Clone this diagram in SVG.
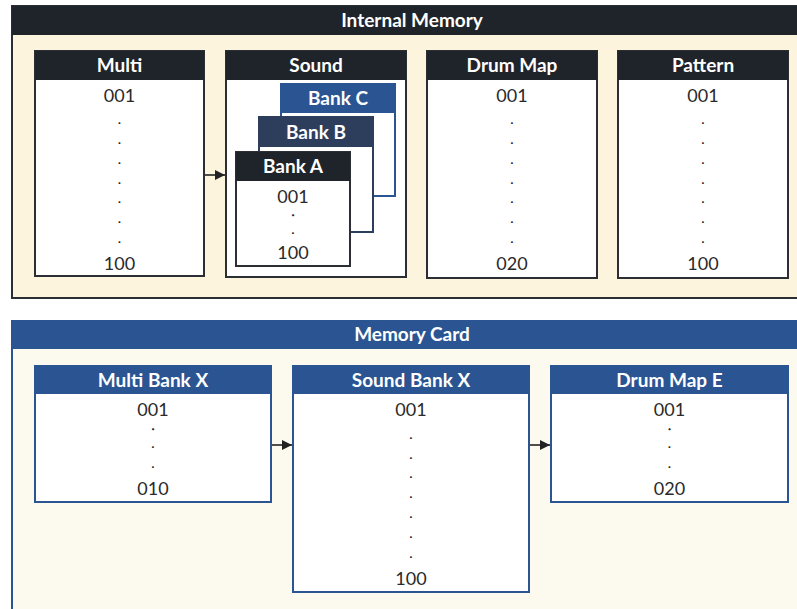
<svg xmlns="http://www.w3.org/2000/svg" width="797" height="609" viewBox="0 0 797 609">
<defs>
<style>
.hd{font-family:Lato,"Open Sans","Liberation Sans",sans-serif;font-weight:bold;font-size:19px;fill:#fff;text-anchor:middle}
.tx{font-family:Lato,"Open Sans","Liberation Sans",sans-serif;font-size:18px;fill:#2a2a2a;text-anchor:middle}
.dt{font-family:Lato,"Open Sans","Liberation Sans",sans-serif;font-size:12px;font-weight:900;fill:#222;text-anchor:middle}
.ds{font-family:Lato,"Open Sans","Liberation Sans",sans-serif;font-size:9px;font-weight:900;fill:#222;stroke:#222;stroke-width:0.7;text-anchor:middle}
.dk{fill:#fff;stroke:#2b2e33;stroke-width:2}
.bl{fill:#fff;stroke:#2a5592;stroke-width:2}
.dkh{fill:#1f242b}
.blh{fill:#2a5592}
.conn{stroke:#222;stroke-width:1.6;fill:none}
</style>
<marker id="ah" viewBox="0 0 10 10" refX="10" refY="5" markerWidth="10" markerHeight="10" markerUnits="userSpaceOnUse" orient="auto">
<path d="M0,0 L10,5 L0,10 z" fill="#222"/>
</marker>
</defs>
<rect width="797" height="609" fill="#fff"/>

<g id="internal-memory">
<rect x="12" y="6" width="800" height="292" fill="#fdf4de" stroke="#2b2e33" stroke-width="2"/>
<rect x="12" y="6" width="800" height="29" class="dkh"/>
<text class="hd" x="412" y="27">Internal Memory</text>
</g>

<g id="memory-card">
<rect x="12" y="321" width="800" height="300" fill="#fcf9ee" stroke="#2a5592" stroke-width="2"/>
<rect x="12" y="321" width="800" height="28" class="blh"/>
<text class="hd" x="412" y="341">Memory Card</text>
</g>

<g id="multi">
<rect class="dk" x="35" y="51" width="169" height="225"/>
<rect class="dkh" x="35" y="51" width="169" height="29"/>
<text class="hd" x="119.5" y="72">Multi</text>
<text class="tx" x="119.5" y="102">001</text>
<text class="dt" x="119.5" y="124">.</text>
<text class="dt" x="119.5" y="144">.</text>
<text class="dt" x="119.5" y="164">.</text>
<text class="dt" x="119.5" y="184">.</text>
<text class="dt" x="119.5" y="203">.</text>
<text class="dt" x="119.5" y="223">.</text>
<text class="dt" x="119.5" y="243">.</text>
<text class="tx" x="119.5" y="270">100</text>
</g>

<g id="sound">
<rect class="dk" x="226" y="51" width="180" height="226"/>
<rect class="dkh" x="226" y="51" width="180" height="29"/>
<text class="hd" x="316" y="72">Sound</text>
</g>

<g id="bank-c">
<rect class="bl" x="281" y="84" width="114" height="112"/>
<rect class="blh" x="281" y="84" width="114" height="29"/>
<text class="hd" x="338" y="105">Bank C</text>
</g>

<g id="bank-b">
<rect fill="#fff" stroke="#2d3e5d" stroke-width="2" x="259" y="117" width="114" height="115"/>
<rect fill="#2d3e5d" x="259" y="117" width="114" height="30"/>
<text class="hd" x="316" y="139">Bank B</text>
</g>

<g id="bank-a">
<rect class="dk" x="236" y="152" width="114" height="114"/>
<rect class="dkh" x="236" y="152" width="114" height="29"/>
<text class="hd" x="293" y="173">Bank A</text>
<text class="tx" x="293" y="203">001</text>
<text class="ds" x="293" y="216">.</text>
<text class="dt" x="293" y="234">.</text>
<text class="tx" x="293" y="259">100</text>
</g>

<g id="drum-map">
<rect class="dk" x="427" y="51" width="170" height="227"/>
<rect class="dkh" x="427" y="51" width="170" height="29"/>
<text class="hd" x="512" y="72">Drum Map</text>
<text class="tx" x="512" y="102">001</text>
<text class="dt" x="512" y="124">.</text>
<text class="dt" x="512" y="144">.</text>
<text class="dt" x="512" y="164">.</text>
<text class="dt" x="512" y="184">.</text>
<text class="dt" x="512" y="203">.</text>
<text class="dt" x="512" y="223">.</text>
<text class="dt" x="512" y="243">.</text>
<text class="tx" x="512" y="270">020</text>
</g>

<g id="pattern">
<rect class="dk" x="618" y="51" width="170" height="227"/>
<rect class="dkh" x="618" y="51" width="170" height="29"/>
<text class="hd" x="703" y="72">Pattern</text>
<text class="tx" x="703" y="102">001</text>
<text class="dt" x="703" y="124">.</text>
<text class="dt" x="703" y="144">.</text>
<text class="dt" x="703" y="164">.</text>
<text class="dt" x="703" y="184">.</text>
<text class="dt" x="703" y="203">.</text>
<text class="dt" x="703" y="223">.</text>
<text class="dt" x="703" y="243">.</text>
<text class="tx" x="703" y="270">100</text>
</g>

<g id="multi-bank-x">
<rect class="bl" x="35" y="366" width="236" height="136"/>
<rect class="blh" x="35" y="366" width="236" height="28"/>
<text class="hd" x="153" y="387">Multi Bank X</text>
<text class="tx" x="153" y="416">001</text>
<text class="ds" x="153" y="430">.</text>
<text class="dt" x="153" y="448">.</text>
<text class="dt" x="153" y="468">.</text>
<text class="tx" x="153" y="495">010</text>
</g>

<g id="sound-bank-x">
<rect class="bl" x="293" y="366" width="236" height="226"/>
<rect class="blh" x="293" y="366" width="236" height="28"/>
<text class="hd" x="411" y="387">Sound Bank X</text>
<text class="tx" x="411" y="416">001</text>
<text class="dt" x="411" y="439">.</text>
<text class="dt" x="411" y="459">.</text>
<text class="dt" x="411" y="478">.</text>
<text class="dt" x="411" y="498">.</text>
<text class="dt" x="411" y="518">.</text>
<text class="dt" x="411" y="538">.</text>
<text class="dt" x="411" y="558">.</text>
<text class="tx" x="411" y="585">100</text>
</g>

<g id="drum-map-e">
<rect class="bl" x="551" y="366" width="237" height="136"/>
<rect class="blh" x="551" y="366" width="237" height="28"/>
<text class="hd" x="669.5" y="387">Drum Map E</text>
<text class="tx" x="669.5" y="416">001</text>
<text class="ds" x="669.5" y="430">.</text>
<text class="dt" x="669.5" y="448">.</text>
<text class="dt" x="669.5" y="468">.</text>
<text class="tx" x="669.5" y="495">020</text>
</g>

<g id="connectors">
<line class="conn" x1="205" y1="175" x2="225" y2="175" marker-end="url(#ah)"/>
<line class="conn" x1="272" y1="445" x2="292" y2="445" marker-end="url(#ah)"/>
<line class="conn" x1="530" y1="445" x2="550" y2="445" marker-end="url(#ah)"/>
</g>
</svg>
